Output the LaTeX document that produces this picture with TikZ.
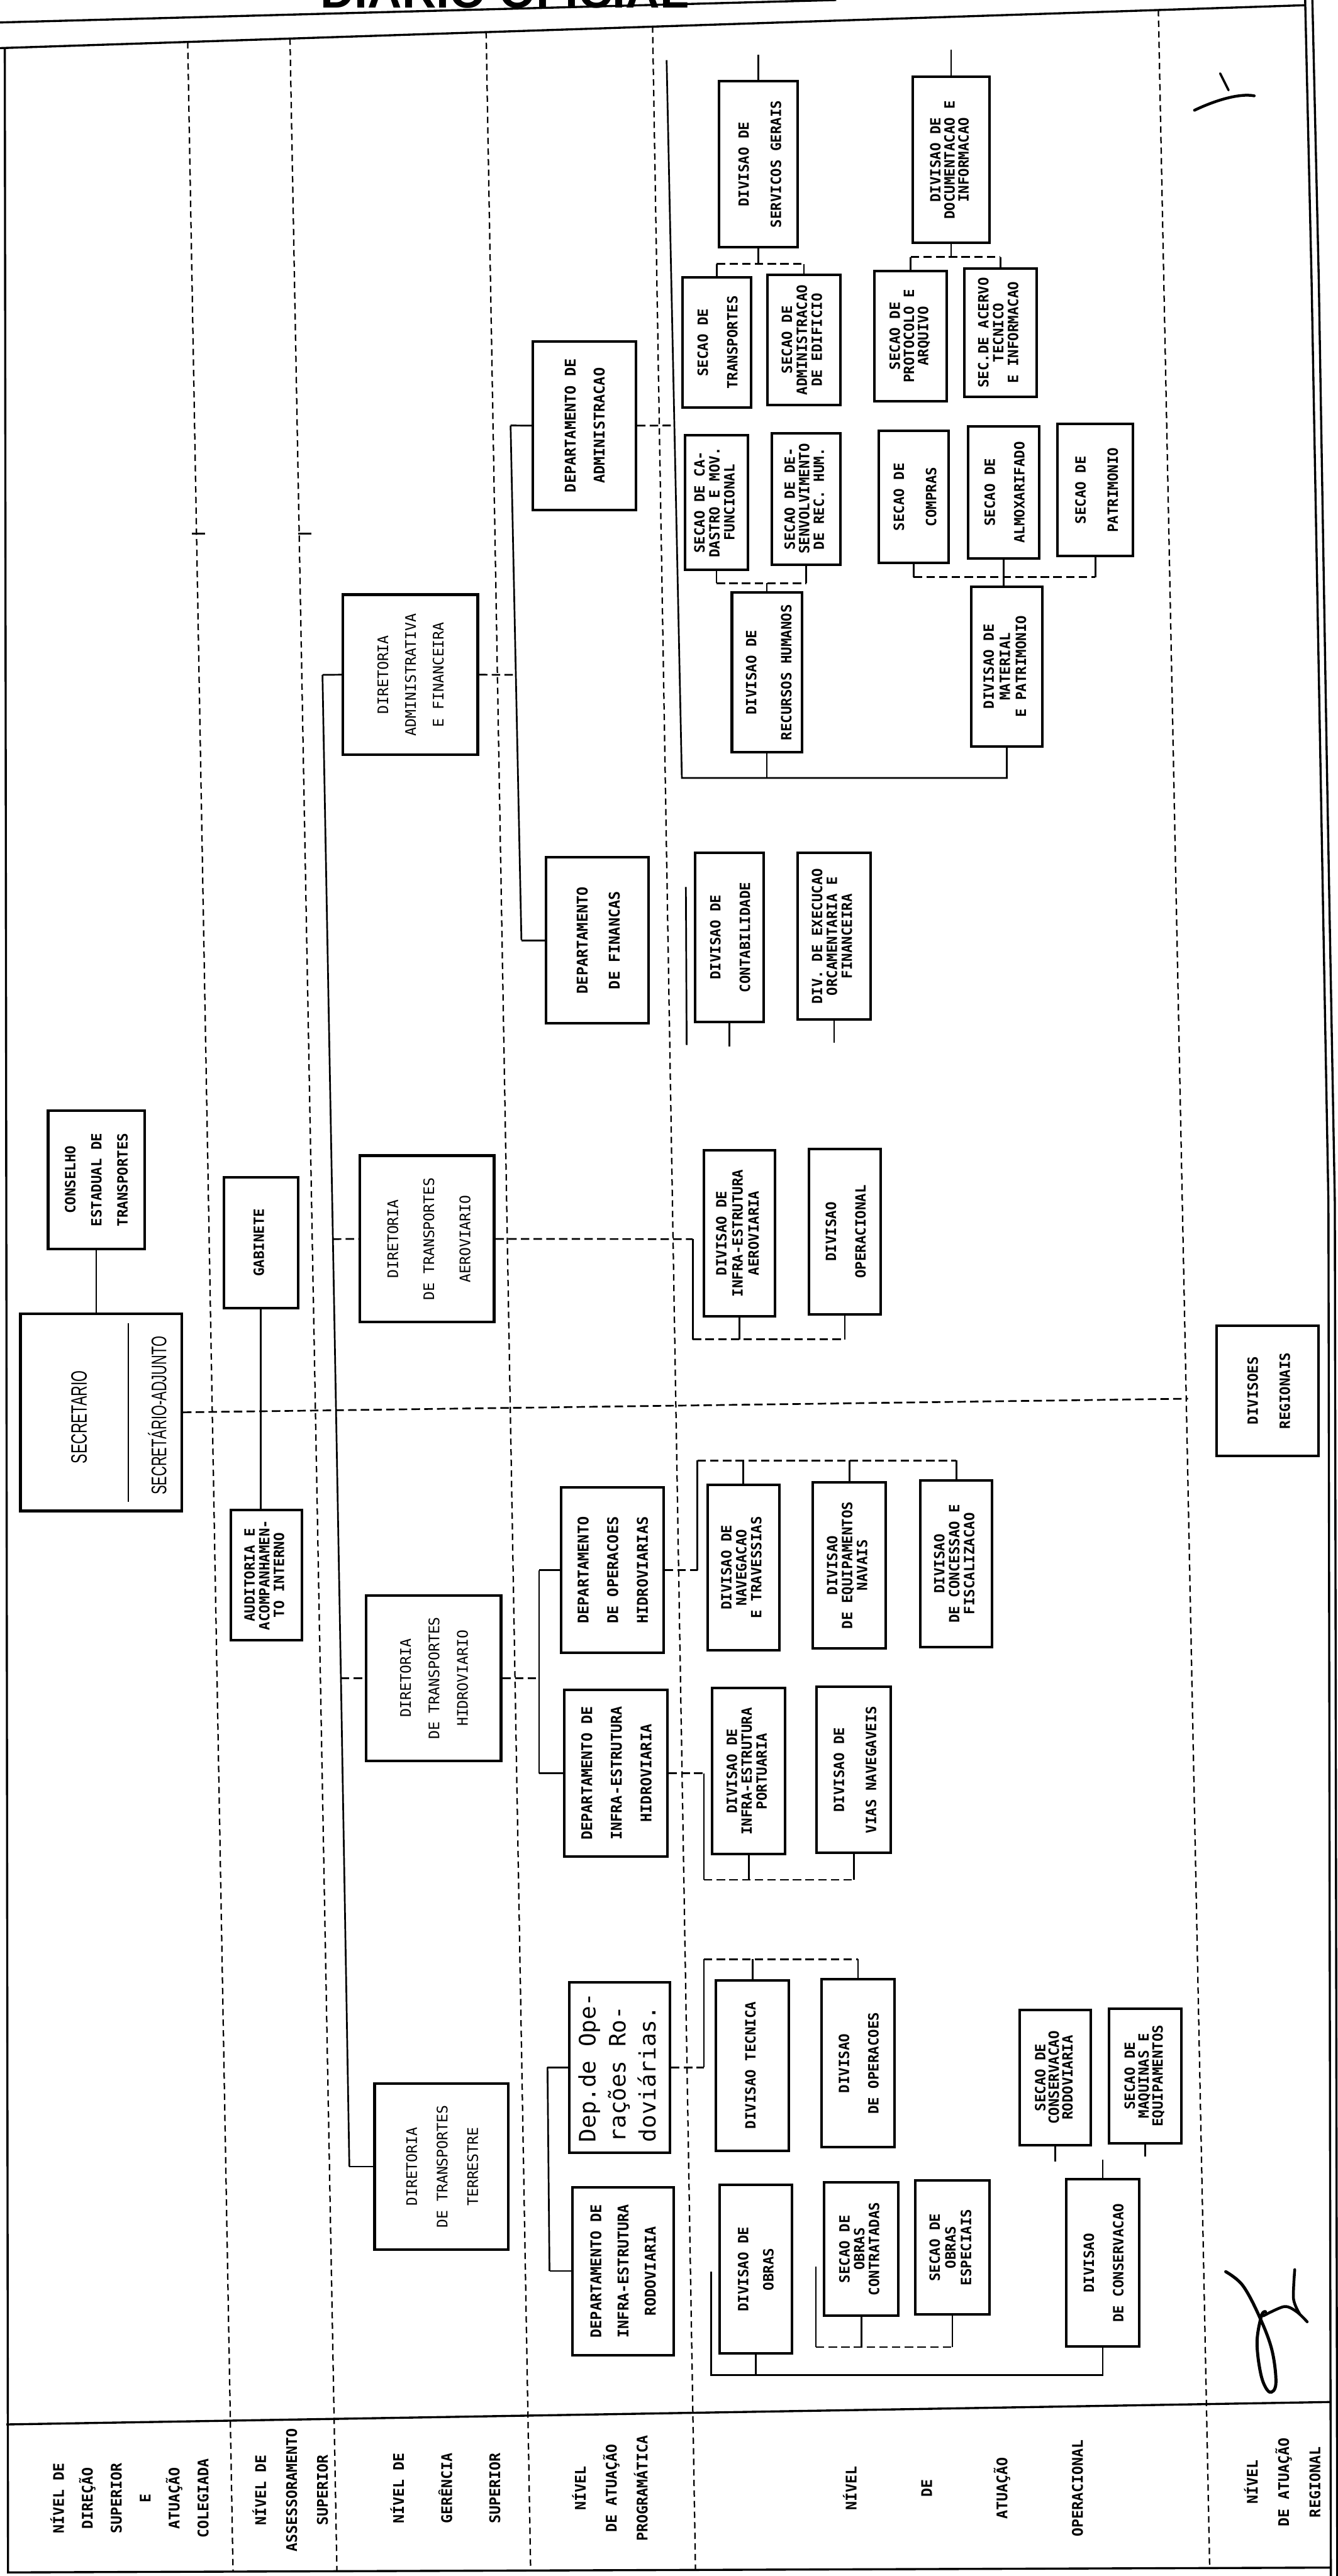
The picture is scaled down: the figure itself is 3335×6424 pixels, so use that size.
\documentclass[tikz,border=0pt]{standalone}
\usepackage{fontspec}
\usepackage{graphicx}
\newfontfamily\monofnt{DejaVu Sans Mono}
\newfontfamily\condfnt{Liberation Sans}[FakeStretch=0.65]
\newfontfamily\headfnt{Liberation Sans}
\newcommand\RT[4][c]{\rotatebox{90}{\fontsize{#2}{1}\selectfont\renewcommand\arraystretch{#3}\begin{tabular}{@{}#1@{}}#4\end{tabular}}}
\newcommand\BX[7][bx]{\node[#1, minimum width={(#4-#2)*0.01cm}, minimum height={(#5-#3)*0.01cm}] (#6) at ({(#2+#4)/2},{(#3+#5)/2}) {#7};}
\begin{document}
\begin{tikzpicture}[x=0.01cm,y=-0.01cm,
 bx/.style={draw, line width=1.8pt, inner sep=0pt, fill=white, font=\monofnt\bfseries},
 dbx/.style={draw, line width=1.9pt, inner sep=0pt, fill=white, font=\monofnt},
 con/.style={line width=1.2pt},
 dcon/.style={line width=1.2pt, dash pattern=on 6pt off 3pt},
 sepl/.style={line width=1pt, dash pattern=on 4.5pt off 3pt},
 frm/.style={line width=1.5pt},
 lab/.style={inner sep=0pt, font=\monofnt\bfseries}]
\useasboundingbox (0,0) rectangle (3335,6424);

% header (cut at top, as in the scan)
\node[anchor=base west, inner sep=0pt, font=\headfnt\bfseries\fontsize{33.6}{36}\selectfont] (hdr) at (798,20) {DIARIO OFICIAL};

% frame
\draw[frm] (0,56) -- (2085,0);
\draw[frm] (0,120) -- (3254,13);
\draw[frm] (12,120) -- (20,6415) -- (3320,6403);
\draw[frm] (3254,0) -- (3270,700) -- (3292,1900) -- (3312,3000) -- (3318,6424);
\draw[frm] (3272,0) -- (3288,700) -- (3308,1900) -- (3328,3000) -- (3334,6424);
\draw[frm] (16,6046) -- (3318,5990);

% column separators
\draw[sepl] (468,105) -- (581,6412);
\draw[sepl] (723,96) -- (840,6410);
\draw[sepl] (1212,80) -- (1323,6410);
\draw[sepl] (1627,66) -- (1734,6408);
\draw[sepl] (2888,25) -- (3016,6405);
\draw[con] (478,1331) -- (512,1331);
\draw[con] (744,1331) -- (776,1331);

% level labels
\node[lab] (lab1) at (325,6230) {\RT{10.4}{20.5}{NÍVEL DE\\DIREÇÃO\\SUPERIOR\\E\\ATUAÇÃO\\COLEGIADA}};
\node[lab] (lab2) at (725,6210) {\RT{10.4}{21.9}{NÍVEL DE\\ASSESSORAMENTO\\SUPERIOR}};
\node[lab] (lab3) at (1103,6205) {\RT{10.4}{34.1}{NÍVEL DE\\GERÊNCIA\\SUPERIOR}};
\node[lab] (lab4) at (1522,6205) {\RT{10.4}{21.9}{NÍVEL\\DE ATUAÇÃO\\PROGRAMÁTICA}};
\node[lab] (lab5) at (2380,6205) {\RT{10.4}{53.5}{NÍVEL\\DE\\ATUAÇÃO\\OPERACIONAL}};
\node[lab] (lab6) at (3198,6190) {\RT{10.4}{22.2}{NÍVEL\\DE ATUAÇÃO\\REGIONAL}};

% ---- top level
\BX{120}{2770}{360}{3114}{cons}{\RT{10}{18.5}{CONSELHO\\ESTADUAL DE\\TRANSPORTES}}
\BX[dbx]{51}{3276}{453}{3768}{sec}{}
\node[inner sep=0pt, font=\condfnt] (sect) at (197,3534) {\rotatebox{90}{\fontsize{15.8}{18}\selectfont SECRETARIO}};
\node[inner sep=0pt, font=\condfnt] (secadj) at (392,3530) {\rotatebox{90}{\fontsize{15}{18}\selectfont SECRETÁRIO-ADJUNTO}};
\draw[con] (320,3300) -- (320,3745);
\BX{558}{2936}{743}{3262}{gab}{\RT{10}{10}{GABINETE}}
\BX{575}{3766}{753}{4090}{aud}{\RT{10}{10}{AUDITORIA E\\ACOMPANHAMEN-\\TO INTERNO}}

% ---- diretorias
\BX[dbx]{855}{1483}{1191}{1882}{diradm}{\RT{10.3}{19.6}{DIRETORIA\\ADMINISTRATIVA\\E FINANCEIRA}}
\BX[dbx]{897}{2882}{1232}{3297}{aero}{\RT{10.3}{25.6}{DIRETORIA\\DE TRANSPORTES\\AEROVIARIO}}
\BX[dbx]{913}{3979}{1249}{4391}{hidro}{\RT{10.3}{20.2}{DIRETORIA\\DE TRANSPORTES\\HIDROVIARIO}}
\BX[dbx]{934}{5196}{1267}{5610}{terr}{\RT{10.3}{21.6}{DIRETORIA\\DE TRANSPORTES\\TERRESTRE}}

% ---- departamentos
\BX{1329}{851}{1585}{1272}{deptadm}{\RT{10.5}{20.5}{DEPARTAMENTO DE\\ADMINISTRACAO}}
\BX{1361}{2138}{1617}{2552}{deptfin}{\RT{10.5}{22.8}{DEPARTAMENTO\\DE FINANCAS}}
\BX{1399}{3709}{1654}{4122}{doh}{\RT{10.5}{21}{DEPARTAMENTO\\DE OPERACOES\\HIDROVIARIAS}}
\BX{1407}{4214}{1664}{4630}{dih}{\RT{10.5}{21}{DEPARTAMENTO DE\\INFRA-ESTRUTURA\\HIDROVIARIA}}
\BX[dbx]{1419}{4943}{1670}{5368}{dor}{\RT[l]{16}{21.3}{Dep.de Ope-\\rações Ro-\\doviárias.}}
\BX{1427}{5454}{1680}{5873}{dir}{\RT{10.5}{19.3}{DEPARTAMENTO DE\\INFRA-ESTRUTURA\\RODOVIARIA}}

% ---- administracao
\BX{1793}{202}{1989}{617}{servgerais}{\RT{10}{22.8}{DIVISAO DE\\SERVICOS GERAIS}}
\BX{1702}{691}{1872}{1017}{stransp}{\RT{10}{21}{SECAO DE\\TRANSPORTES}}
\BX{1914}{685}{2095}{1010}{sadm}{\RT{10}{10.5}{SECAO DE\\ADMINISTRACAO\\DE EDIFICIO}}
\BX{2276}{191}{2467}{606}{doc}{\RT{10}{8.6}{DIVISAO DE\\DOCUMENTACAO E\\INFORMACAO}}
\BX{2180}{676}{2361}{1000}{sprot}{\RT{10}{8.8}{SECAO DE\\PROTOCOLO E\\ARQUIVO}}
\BX{2404}{670}{2584}{989}{sacervo}{\RT{10}{10.5}{SEC.DE ACERVO\\TECNICO\\E INFORMACAO}}
\BX{1708}{1085}{1865}{1421}{scad}{\RT{10}{10.5}{SECAO DE CA-\\DASTRO E MOV.\\FUNCIONAL}}
\BX{1925}{1080}{2095}{1408}{sdes}{\RT{10}{9.7}{SECAO DE DE-\\SENVOLVIMENTO\\DE REC. HUM.}}
\BX{2191}{1074}{2365}{1404}{scomp}{\RT{10}{22.8}{SECAO DE\\COMPRAS}}
\BX{2414}{1063}{2591}{1393}{salm}{\RT{10}{21}{SECAO DE\\ALMOXARIFADO}}
\BX{2637}{1057}{2825}{1387}{spat}{\RT{10}{22.8}{SECAO DE\\PATRIMONIO}}
\BX{1825}{1478}{1999}{1876}{rh}{\RT{10}{24.8}{DIVISAO DE\\RECURSOS HUMANOS}}
\BX{2421}{1463}{2599}{1861}{mat}{\RT{10}{11.4}{DIVISAO DE\\MATERIAL\\E PATRIMONIO}}
\BX{1733}{2127}{1904}{2548}{contab}{\RT{10}{21}{DIVISAO DE\\CONTABILIDADE}}
\BX{1989}{2127}{2170}{2542}{exec}{\RT{10}{10.5}{DIV. DE EXECUCAO\\ORCAMENTARIA E\\FINANCEIRA}}

% ---- aeroviario / hidroviario
\BX{1755}{2869}{1932}{3282}{infraaero}{\RT{10}{11.4}{DIVISAO DE\\INFRA-ESTRUTURA\\AEROVIARIA}}
\BX{2017}{2865}{2196}{3278}{divop}{\RT{10}{21}{DIVISAO\\OPERACIONAL}}
\BX{1764}{3703}{1943}{4115}{nav}{\RT{10}{10.5}{DIVISAO DE\\NAVEGACAO\\E TRAVESSIAS}}
\BX{2027}{3696}{2208}{4111}{equip}{\RT{10}{10.5}{DIVISAO\\DE EQUIPAMENTOS\\NAVAIS}}
\BX{2295}{3692}{2474}{4107}{conc}{\RT{10}{10.5}{DIVISAO\\DE CONCESSAO E\\FISCALIZACAO}}
\BX{1776}{4210}{1958}{4624}{port}{\RT{10}{10.5}{DIVISAO DE\\INFRA-ESTRUTURA\\PORTUARIA}}
\BX{2036}{4206}{2221}{4621}{vias}{\RT{10}{22.8}{DIVISAO DE\\VIAS NAVEGAVEIS}}

% ---- terrestre
\BX{1785}{4938}{1967}{5363}{divtec}{\RT{10}{10}{DIVISAO TECNICA}}
\BX{2048}{4936}{2230}{5355}{divoper}{\RT{10}{20.8}{DIVISAO\\DE OPERACOES}}
\BX{2542}{5013}{2720}{5349}{sconsrod}{\RT{10}{7.4}{SECAO DE\\CONSERVACAO\\RODOVIARIA}}
\BX{2765}{5009}{2946}{5345}{smaq}{\RT{10}{8.3}{SECAO DE\\MAQUINAS E\\EQUIPAMENTOS}}
\BX{2658}{5435}{2841}{5852}{divcons}{\RT{10}{20.8}{DIVISAO\\DE CONSERVACAO}}
\BX{1794}{5449}{1975}{5869}{divobras}{\RT{10}{17.9}{DIVISAO DE\\OBRAS}}
\BX{2055}{5442}{2240}{5775}{scontr}{\RT{10}{10.2}{SECAO DE\\OBRAS\\CONTRATADAS}}
\BX{2282}{5438}{2467}{5771}{sesp}{\RT{10}{11.1}{SECAO DE\\OBRAS\\ESPECIAIS}}

% ---- regional
\BX{3033}{3306}{3287}{3630}{divreg}{\RT{10}{22.8}{DIVISOES\\REGIONAIS}}

% ================= connectors
\draw[con] (cons.south) -- (cons.south |- sec.north);
\coordinate (secend) at (2962,3488);
\draw[dcon] (sec.east) -- (secend);
\draw[con] (gab.south) -- (gab.south |- aud.north);

% diretorias bracket
\coordinate (d1) at (804,1683);
\coordinate (d2) at (830,3090);
\coordinate (d3) at (850,4185);
\coordinate (d4) at (871,5403);
\draw[con] (d1) -- (d2) -- (d3) -- (d4);
\draw[con] (d1) -- (diradm.west);
\draw[dcon] (d2) -- (aero.west);
\draw[dcon] (d3) -- (hidro.west);
\draw[con] (d4) -- (terr.west);

% diretoria administrativa
\coordinate (a1) at (1273,1061);
\coordinate (a2) at (1300,2345);
\coordinate (a3) at (1286,1683);
\draw[con] (a1) -- (a2);
\draw[con] (a1) -- (deptadm.west);
\draw[con] (a2) -- (deptfin.west);
\draw[dcon] (diradm.east) -- (a3);

% departamento de administracao
\coordinate (b1) at (1662,150);
\coordinate (b2) at (1700,1940);
\coordinate (b3) at (1678,1061);
\draw[con] (b1) -- (b2) -- (mat.south |- b2) -- (mat.south);
\draw[dcon] (deptadm.east) -- (b3);
\draw[con] (rh.south) -- (rh.south |- b2);
\draw[con] (servgerais.north) -- ++(0,-62);
\draw[con] (doc.north) -- ++(0,-64);
\draw[con] (servgerais.south) -- ++(0,38) coordinate (sg);
\draw[dcon] (stransp.north |- sg) -- (sadm.north |- sg);
\draw[con] (stransp.north |- sg) -- (stransp.north);
\draw[con] (sadm.north |- sg) -- (sadm.north);
\draw[con] (doc.south) -- ++(0,32) coordinate (dc);
\draw[dcon] (sprot.north |- dc) -- (sacervo.north |- dc);
\draw[con] (sprot.north |- dc) -- (sprot.north);
\draw[con] (sacervo.north |- dc) -- (sacervo.north);
\draw[con] (scad.south) -- ++(0,30) coordinate (rb);
\draw[dcon] (rb) -- (sdes.south |- rb);
\draw[con] (sdes.south) -- (sdes.south |- rb);
\draw[con] (rh.north) -- (rh.north |- rb);
\draw[con] (scomp.south) -- ++(0,32) coordinate (mb);
\draw[dcon] (mb) -- (spat.south |- mb);
\draw[con] (salm.south) -- (salm.south |- mat.north);
\draw[con] (spat.south) -- (spat.south |- mb);

% departamento de financas
\coordinate (f1) at (1710,2212);
\coordinate (f2) at (1712,2606);
\draw[con] (f1) -- (f2);
\draw[con] (contab.south) -- ++(0,58);
\draw[con] (exec.south) -- ++(0,55);

% aeroviario
\coordinate (e1) at (1727,3090);
\coordinate (e2) at (1727,3340);
\draw[dcon] (aero.east) -- (e1);
\draw[con] (e1) -- (e2);
\draw[dcon] (e2) -- (divop.south |- e2);
\draw[con] (infraaero.south) -- (infraaero.south |- e2);
\draw[con] (divop.south) -- (divop.south |- e2);

% hidroviario
\coordinate (h1) at (1344,4185);
\coordinate (h2) at (1344,3915.5);
\coordinate (h3) at (1344,4422);
\draw[dcon] (hidro.east) -- (h1);
\draw[con] (h2) -- (h3);
\draw[con] (h2) -- (doh.west);
\draw[con] (h3) -- (dih.west);
\coordinate (o1) at (1739,3915.5);
\coordinate (o2) at (1739,3642);
\draw[dcon] (doh.east) -- (o1);
\draw[con] (o1) -- (o2);
\draw[dcon] (o2) -- (conc.north |- o2);
\draw[con] (nav.north) -- (nav.north |- o2);
\draw[con] (equip.north) -- (equip.north |- o2);
\draw[con] (conc.north) -- (conc.north |- o2);
\coordinate (i1) at (1755,4422);
\coordinate (i2) at (1755,4688);
\draw[dcon] (dih.east) -- (i1);
\draw[con] (i1) -- (i2);
\draw[dcon] (i2) -- (vias.south |- i2);
\draw[con] (port.south) -- (port.south |- i2);
\draw[con] (vias.south) -- (vias.south |- i2);

% terrestre
\coordinate (t1) at (1365,5155.5);
\coordinate (t2) at (1370,5663.5);
\draw[con] (t1) -- (t2);
\draw[con] (t1) -- (dor.west);
\draw[con] (t2) -- (dir.west);
\coordinate (r1) at (1755,5155.5);
\coordinate (r2) at (1755,4886);
\draw[dcon] (dor.east) -- (r1);
\draw[con] (r1) -- (r2);
\draw[dcon] (r2) -- (divoper.north |- r2);
\draw[con] (divtec.north) -- (divtec.north |- r2);
\draw[con] (divoper.north) -- (divoper.north |- r2);
\coordinate (g1) at (1773,5665);
\coordinate (g2) at (1773,5923);
\draw[con] (g1) -- (g2) -- (divcons.south |- g2) -- (divcons.south);
\draw[con] (divobras.south) -- (divobras.south |- g2);
\coordinate (k1) at (2034,5653);
\coordinate (k2) at (2034,5853);
\draw[con] (k1) -- (k2);
\draw[dcon] (k2) -- (sesp.south |- k2);
\draw[con] (scontr.south) -- (scontr.south |- k2);
\draw[con] (sesp.south) -- (sesp.south |- k2);
\draw[con] (sconsrod.south) -- ++(0,38);
\draw[con] (smaq.south) -- ++(0,29);
\draw[con] (divcons.north) -- ++(0,-46);

% handwritten marks
\draw[line width=2.2pt, line cap=round] plot[smooth, tension=0.6] coordinates {(3056,5665) (3098,5699) (3139,5775) (3171,5860) (3181,5944) (3165,5965) (3145,5927) (3134,5843) (3145,5775) (3155,5765)};
\draw[line width=2pt, line cap=round] plot[smooth] coordinates {(3150,5775) (3202,5752) (3233,5765) (3259,5790)};
\draw[line width=2pt, line cap=round] plot[smooth] coordinates {(3228,5660) (3225,5733) (3240,5770)};
\draw[line width=2pt, line cap=round] (2978,275) .. controls (3030,250) and (3090,232) .. (3127,239);
\draw[line width=1.6pt, line cap=round] (3042,183) -- (3063,225);
\end{tikzpicture}
\end{document}
